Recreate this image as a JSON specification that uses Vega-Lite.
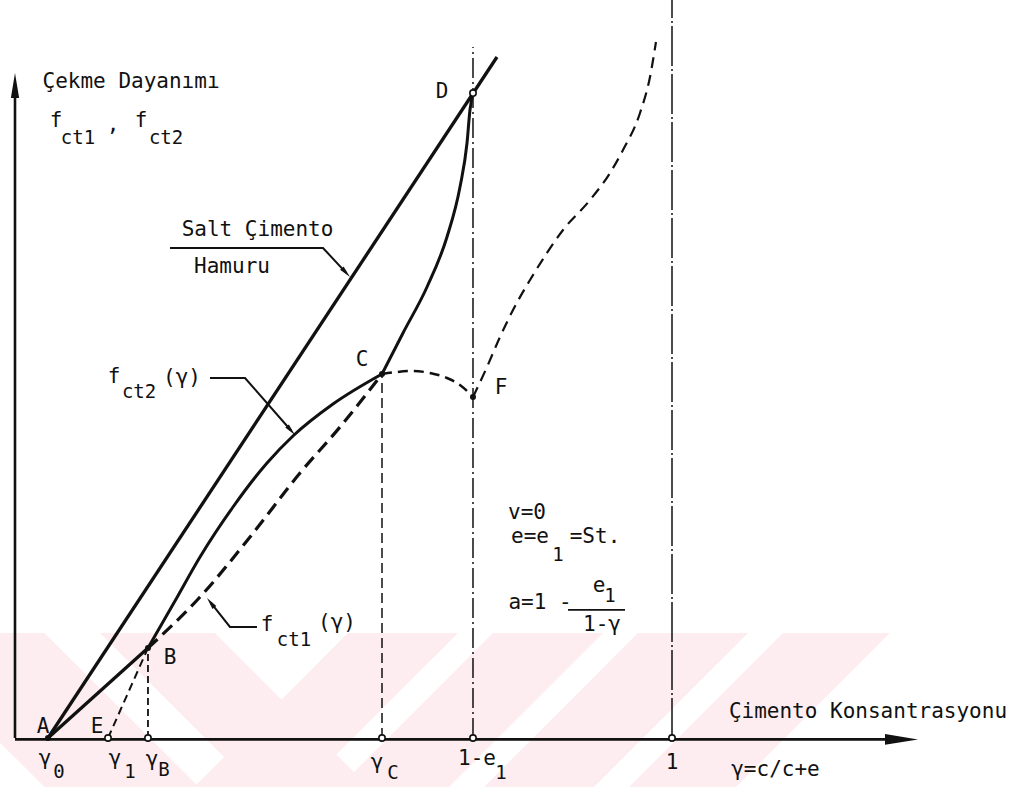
{
  "$schema": "https://vega.github.io/schema/vega-lite/v6.json",
  "width": 1036,
  "height": 787,
  "padding": 0,
  "autosize": {"type": "none"},
  "background": "white",
  "config": {"view": {"stroke": null}},
  "datasets": {
    "stamp": [
      {"band": "L1", "g": -0.1903, "s": 0.15, "s2": 0.15},
      {"band": "L1", "g": 0.0449, "s": 0.15, "s2": -0.07},
      {"band": "L1", "g": 0.2801, "s": -0.07, "s2": -0.07},
      {"band": "L2", "g": 0.1294, "s": 0.15, "s2": 0.15},
      {"band": "L2", "g": 0.3044, "s": 0.15, "s2": -0.0143},
      {"band": "L2", "g": 0.3638, "s": 0.0943, "s2": -0.07},
      {"band": "L2", "g": 0.5388, "s": -0.07, "s2": -0.07},
      {"band": "R1", "g": 0.2725, "s": -0.07, "s2": -0.07},
      {"band": "R1", "g": 0.4399, "s": 0.0871, "s2": -0.07},
      {"band": "R1", "g": 0.5068, "s": 0.15, "s2": -0.0071},
      {"band": "R1", "g": 0.6743, "s": 0.15, "s2": 0.15},
      {"band": "R2", "g": 0.4932, "s": -0.07, "s2": -0.07},
      {"band": "R2", "g": 0.6606, "s": 0.0871, "s2": -0.07},
      {"band": "R2", "g": 0.7275, "s": 0.15, "s2": -0.0071},
      {"band": "R2", "g": 0.895, "s": 0.15, "s2": 0.15},
      {"band": "R3", "g": 0.7139, "s": -0.07, "s2": -0.07},
      {"band": "R3", "g": 0.8813, "s": 0.0871, "s2": -0.07},
      {"band": "R3", "g": 0.9482, "s": 0.15, "s2": -0.0071},
      {"band": "R3", "g": 1.1157, "s": 0.15, "s2": 0.15},
      {"band": "R4", "g": 0.9346, "s": -0.07, "s2": -0.07},
      {"band": "R4", "g": 1.0974, "s": 0.0829, "s2": -0.07},
      {"band": "R4", "g": 1.1689, "s": 0.15, "s2": -0.0029},
      {"band": "R4", "g": 1.3318, "s": 0.15, "s2": 0.15}
    ],
    "lines": [
      {"id": "salt", "g": 0.0502, "s": 0.0},
      {"id": "salt", "g": 0.7336, "s": 0.9729},
      {"id": "fct2a", "g": 0.0502, "s": 0.0},
      {"id": "fct2a", "g": 0.2024, "s": 0.1286},
      {"id": "fct2b", "g": 0.2024, "s": 0.1286},
      {"id": "fct2b", "g": 0.2435, "s": 0.1957},
      {"id": "fct2b", "g": 0.2816, "s": 0.2586},
      {"id": "fct2b", "g": 0.3318, "s": 0.33},
      {"id": "fct2b", "g": 0.3836, "s": 0.3929},
      {"id": "fct2b", "g": 0.4231, "s": 0.4314},
      {"id": "fct2b", "g": 0.484, "s": 0.4771},
      {"id": "fct2b", "g": 0.5586, "s": 0.52},
      {"id": "fct2c", "g": 0.5586, "s": 0.52},
      {"id": "fct2c", "g": 0.5906, "s": 0.5786},
      {"id": "fct2c", "g": 0.6271, "s": 0.6443},
      {"id": "fct2c", "g": 0.6575, "s": 0.7157},
      {"id": "fct2c", "g": 0.6773, "s": 0.7871},
      {"id": "fct2c", "g": 0.688, "s": 0.85},
      {"id": "fct2c", "g": 0.6925, "s": 0.8971},
      {"id": "fct2c", "g": 0.6971, "s": 0.9214},
      {"id": "fct1", "g": 0.2024, "s": 0.1286},
      {"id": "fct1", "g": 0.2816, "s": 0.2014},
      {"id": "fct1", "g": 0.3577, "s": 0.2871},
      {"id": "fct1", "g": 0.4338, "s": 0.3786},
      {"id": "fct1", "g": 0.4947, "s": 0.4443},
      {"id": "fct1", "g": 0.5586, "s": 0.52},
      {"id": "eb", "g": 0.1416, "s": 0.0},
      {"id": "eb", "g": 0.2024, "s": 0.1286},
      {"id": "hump", "g": 0.5586, "s": 0.52},
      {"id": "hump", "g": 0.5814, "s": 0.5229},
      {"id": "hump", "g": 0.6058, "s": 0.5243},
      {"id": "hump", "g": 0.6317, "s": 0.5214},
      {"id": "hump", "g": 0.6575, "s": 0.5143},
      {"id": "hump", "g": 0.6773, "s": 0.5043},
      {"id": "hump", "g": 0.6971, "s": 0.4871},
      {"id": "rise", "g": 0.6971, "s": 0.4871},
      {"id": "rise", "g": 0.7184, "s": 0.53},
      {"id": "rise", "g": 0.7382, "s": 0.5729},
      {"id": "rise", "g": 0.758, "s": 0.6114},
      {"id": "rise", "g": 0.7839, "s": 0.6543},
      {"id": "rise", "g": 0.8097, "s": 0.6929},
      {"id": "rise", "g": 0.8341, "s": 0.7257},
      {"id": "rise", "g": 0.8752, "s": 0.7686},
      {"id": "rise", "g": 0.9056, "s": 0.8071},
      {"id": "rise", "g": 0.9254, "s": 0.84},
      {"id": "rise", "g": 0.9513, "s": 0.8929},
      {"id": "rise", "g": 0.9665, "s": 0.9443},
      {"id": "rise", "g": 0.9756, "s": 0.9943},
      {"id": "lead_salt", "g": 0.2359, "s": 0.7},
      {"id": "lead_salt", "g": 0.4688, "s": 0.7},
      {"id": "lead_salt", "g": 0.5037, "s": 0.6649},
      {"id": "lead_f2", "g": 0.2968, "s": 0.5143},
      {"id": "lead_f2", "g": 0.3501, "s": 0.5143},
      {"id": "lead_f2", "g": 0.4201, "s": 0.4393},
      {"id": "lead_f1", "g": 0.2979, "s": 0.1933},
      {"id": "lead_f1", "g": 0.3272, "s": 0.1586},
      {"id": "lead_f1", "g": 0.3683, "s": 0.1586}
    ],
    "vrules": [
      {"id": "yaxis", "g": 0.0, "s": 0.0, "s2": 0.93},
      {"id": "gB", "g": 0.2024, "s": 0.0, "s2": 0.1286},
      {"id": "gC", "g": 0.5586, "s": 0.0, "s2": 0.52},
      {"id": "e1", "g": 0.6971, "s": 0.0, "s2": 0.9871},
      {"id": "one", "g": 1.0, "s": 0.0, "s2": 1.0543}
    ],
    "hrules": [
      {"id": "xaxis", "g": 0.0, "g2": 1.35, "s": -0.002},
      {"id": "bar", "g": 0.8417, "g2": 0.9285, "s": 0.1829}
    ],
    "arrows": [
      {"id": "xaxis", "g": 1.3493, "s": -0.002},
      {"id": "yaxis", "g": 0.0, "s": 0.9321},
      {"id": "salt", "g": 0.5037, "s": 0.6649},
      {"id": "f2", "g": 0.4201, "s": 0.4393},
      {"id": "f1", "g": 0.2979, "s": 0.1933}
    ],
    "dots": [
      {"id": "A", "open": false, "g": 0.0502, "s": 0.0},
      {"id": "B", "open": false, "g": 0.2024, "s": 0.1286},
      {"id": "C", "open": false, "g": 0.5586, "s": 0.52},
      {"id": "F", "open": false, "g": 0.6971, "s": 0.4871},
      {"id": "E", "open": true, "g": 0.1416, "s": 0.0},
      {"id": "gB", "open": true, "g": 0.2024, "s": 0.0},
      {"id": "gC", "open": true, "g": 0.5586, "s": 0.0},
      {"id": "e1", "open": true, "g": 0.6971, "s": 0.0},
      {"id": "one", "open": true, "g": 1.0, "s": 0.0},
      {"id": "D", "open": true, "g": 0.6971, "s": 0.9214}
    ],
    "labels": [
      {"txt": "Çekme Dayanımı", "g": 0.1766, "s": 0.9371},
      {"txt": "f", "g": 0.0624, "s": 0.8814},
      {"txt": ",", "g": 0.1492, "s": 0.8757},
      {"txt": "f", "g": 0.1918, "s": 0.8814},
      {"txt": "Salt Çimento", "g": 0.3691, "s": 0.7257},
      {"txt": "Hamuru", "g": 0.3303, "s": 0.6729},
      {"txt": "D", "g": 0.6499, "s": 0.9229},
      {"txt": "C", "g": 0.5282, "s": 0.54},
      {"txt": "F", "g": 0.7397, "s": 0.5},
      {"txt": "A", "g": 0.0426, "s": 0.0157},
      {"txt": "E", "g": 0.1248, "s": 0.0157},
      {"txt": "B", "g": 0.2359, "s": 0.1143},
      {"txt": "f", "g": 0.1507, "s": 0.5157},
      {"txt": "(γ)", "g": 0.2542, "s": 0.5143},
      {"txt": "f", "g": 0.3836, "s": 0.1614},
      {"txt": "(γ)", "g": 0.4901, "s": 0.1643},
      {"txt": "v=0", "g": 0.7793, "s": 0.3214},
      {"txt": "e=e", "g": 0.7839, "s": 0.2871},
      {"txt": "=St.", "g": 0.8828, "s": 0.2871},
      {"txt": "a=1 -", "g": 0.7991, "s": 0.1929},
      {"txt": "e", "g": 0.8889, "s": 0.2171},
      {"txt": "1-γ", "g": 0.8935, "s": 0.1614},
      {"txt": "γ", "g": 0.0457, "s": -0.03},
      {"txt": "γ", "g": 0.1522, "s": -0.03},
      {"txt": "γ", "g": 0.2085, "s": -0.0314},
      {"txt": "γ", "g": 0.551, "s": -0.0357},
      {"txt": "1-e", "g": 0.7032, "s": -0.03},
      {"txt": "1", "g": 1.0, "s": -0.0357},
      {"txt": "γ=c/c+e", "g": 1.1575, "s": -0.0457},
      {"txt": "Çimento Konsantrasyonu", "g": 1.2983, "s": 0.0371}
    ],
    "subs": [
      {"txt": "ct1", "g": 0.0959, "s": 0.8571},
      {"txt": "ct2", "g": 0.2299, "s": 0.8571},
      {"txt": "ct2", "g": 0.1888, "s": 0.4943},
      {"txt": "ct1", "g": 0.4247, "s": 0.14},
      {"txt": "1", "g": 0.8265, "s": 0.2614},
      {"txt": "1", "g": 0.9056, "s": 0.2029},
      {"txt": "0", "g": 0.067, "s": -0.0486},
      {"txt": "1", "g": 0.175, "s": -0.0486},
      {"txt": "B", "g": 0.2268, "s": -0.0457},
      {"txt": "C", "g": 0.5753, "s": -0.05},
      {"txt": "1", "g": 0.7397, "s": -0.05}
    ]
  },
  "encoding": {
    "x": {"field": "g", "type": "quantitative", "axis": null, "scale": {"domain": [-0.022831, 1.554033], "nice": false, "zero": false}},
    "y": {"field": "s", "type": "quantitative", "axis": null, "scale": {"domain": [-0.07, 1.054286], "nice": false, "zero": false}}
  },
  "layer": [
    {
      "data": {"name": "stamp"},
      "mark": {"type": "area", "color": "#fdedf0", "opacity": 1, "clip": true, "interpolate": "linear"},
      "encoding": {"y2": {"field": "s2"}, "detail": {"field": "band"}}
    },
    {
      "data": {"name": "vrules"},
      "transform": [{"filter": "datum.id === 'yaxis'"}],
      "mark": {"type": "rule", "color": "#111", "strokeWidth": 2.6},
      "encoding": {"y2": {"field": "s2"}}
    },
    {
      "data": {"name": "hrules"},
      "transform": [{"filter": "datum.id === 'xaxis'"}],
      "mark": {"type": "rule", "color": "#111", "strokeWidth": 2.6},
      "encoding": {"x2": {"field": "g2"}}
    },
    {
      "data": {"name": "hrules"},
      "transform": [{"filter": "datum.id === 'bar'"}],
      "mark": {"type": "rule", "color": "#111", "strokeWidth": 1.8},
      "encoding": {"x2": {"field": "g2"}}
    },
    {
      "data": {"name": "vrules"},
      "transform": [{"filter": "datum.id === 'gB'"}],
      "mark": {"type": "rule", "color": "#111", "strokeWidth": 1.8, "strokeDash": [7, 4]},
      "encoding": {"y2": {"field": "s2"}}
    },
    {
      "data": {"name": "vrules"},
      "transform": [{"filter": "datum.id === 'gC'"}],
      "mark": {"type": "rule", "color": "#111", "strokeWidth": 1.5, "strokeDash": [10, 5]},
      "encoding": {"y2": {"field": "s2"}}
    },
    {
      "data": {"name": "vrules"},
      "transform": [{"filter": "datum.id === 'e1'"}],
      "mark": {"type": "rule", "color": "#111", "strokeWidth": 1.5, "strokeDash": [20, 4, 2, 4]},
      "encoding": {"y2": {"field": "s2"}}
    },
    {
      "data": {"name": "vrules"},
      "transform": [{"filter": "datum.id === 'one'"}],
      "mark": {"type": "rule", "color": "#111", "strokeWidth": 1.5, "strokeDash": [40, 3, 2, 3]},
      "encoding": {"y2": {"field": "s2"}}
    },
    {
      "data": {"name": "lines"},
      "transform": [{"filter": "datum.id === 'salt' || datum.id === 'fct2a'"}],
      "mark": {"type": "line", "color": "#111", "strokeWidth": 3.3, "interpolate": "linear"},
      "encoding": {"detail": {"field": "id"}}
    },
    {
      "data": {"name": "lines"},
      "transform": [{"filter": "datum.id === 'fct2b' || datum.id === 'fct2c'"}],
      "mark": {"type": "line", "color": "#111", "strokeWidth": 3, "interpolate": "monotone"},
      "encoding": {"detail": {"field": "id"}}
    },
    {
      "data": {"name": "lines"},
      "transform": [{"filter": "datum.id === 'fct1'"}],
      "mark": {"type": "line", "color": "#111", "strokeWidth": 3.2, "strokeDash": [13, 7], "interpolate": "monotone"},
      "encoding": {}
    },
    {
      "data": {"name": "lines"},
      "transform": [{"filter": "datum.id === 'eb'"}],
      "mark": {"type": "line", "color": "#111", "strokeWidth": 2, "strokeDash": [8, 5]},
      "encoding": {}
    },
    {
      "data": {"name": "lines"},
      "transform": [{"filter": "datum.id === 'hump'"}],
      "mark": {"type": "line", "color": "#111", "strokeWidth": 2.5, "strokeDash": [10, 6], "interpolate": "monotone"},
      "encoding": {}
    },
    {
      "data": {"name": "lines"},
      "transform": [{"filter": "datum.id === 'rise'"}],
      "mark": {"type": "line", "color": "#111", "strokeWidth": 2.2, "strokeDash": [11, 7], "interpolate": "monotone"},
      "encoding": {}
    },
    {
      "data": {"name": "lines"},
      "transform": [{"filter": "indexof(datum.id, 'lead_') === 0"}],
      "mark": {"type": "line", "color": "#111", "strokeWidth": 2},
      "encoding": {"detail": {"field": "id"}}
    },
    {
      "data": {"name": "arrows"},
      "transform": [{"filter": "datum.id === 'xaxis'"}],
      "mark": {"type": "point", "shape": "M1,0L-1,-0.33L-1,0.33Z", "size": 1089, "filled": true, "color": "#111", "opacity": 1, "angle": 0}
    },
    {
      "data": {"name": "arrows"},
      "transform": [{"filter": "datum.id === 'yaxis'"}],
      "mark": {"type": "point", "shape": "M1,0L-1,-0.33L-1,0.33Z", "size": 625, "filled": true, "color": "#111", "opacity": 1, "angle": -90}
    },
    {
      "data": {"name": "arrows"},
      "transform": [{"filter": "datum.id === 'salt'"}],
      "mark": {"type": "point", "shape": "M1,0L-1,-0.4L-1,0.4Z", "size": 144, "filled": true, "color": "#111", "opacity": 1, "angle": 47}
    },
    {
      "data": {"name": "arrows"},
      "transform": [{"filter": "datum.id === 'f2'"}],
      "mark": {"type": "point", "shape": "M1,0L-1,-0.4L-1,0.4Z", "size": 144, "filled": true, "color": "#111", "opacity": 1, "angle": 49}
    },
    {
      "data": {"name": "arrows"},
      "transform": [{"filter": "datum.id === 'f1'"}],
      "mark": {"type": "point", "shape": "M1,0L-1,-0.4L-1,0.4Z", "size": 144, "filled": true, "color": "#111", "opacity": 1, "angle": 232}
    },
    {
      "data": {"name": "dots"},
      "transform": [{"filter": "datum.open"}],
      "mark": {"type": "point", "shape": "circle", "size": 40, "filled": true, "fill": "white", "stroke": "#111", "strokeWidth": 1.6, "opacity": 1}
    },
    {
      "data": {"name": "dots"},
      "transform": [{"filter": "!datum.open"}],
      "mark": {"type": "point", "shape": "circle", "size": 36, "filled": true, "color": "#111", "opacity": 1}
    },
    {
      "data": {"name": "labels"},
      "mark": {"type": "text", "font": "DejaVu Sans Mono", "fontSize": 21, "color": "#111", "align": "center", "baseline": "middle"},
      "encoding": {"text": {"field": "txt"}}
    },
    {
      "data": {"name": "subs"},
      "mark": {"type": "text", "font": "DejaVu Sans Mono", "fontSize": 19, "color": "#111", "align": "center", "baseline": "middle"},
      "encoding": {"text": {"field": "txt"}}
    }
  ]
}
